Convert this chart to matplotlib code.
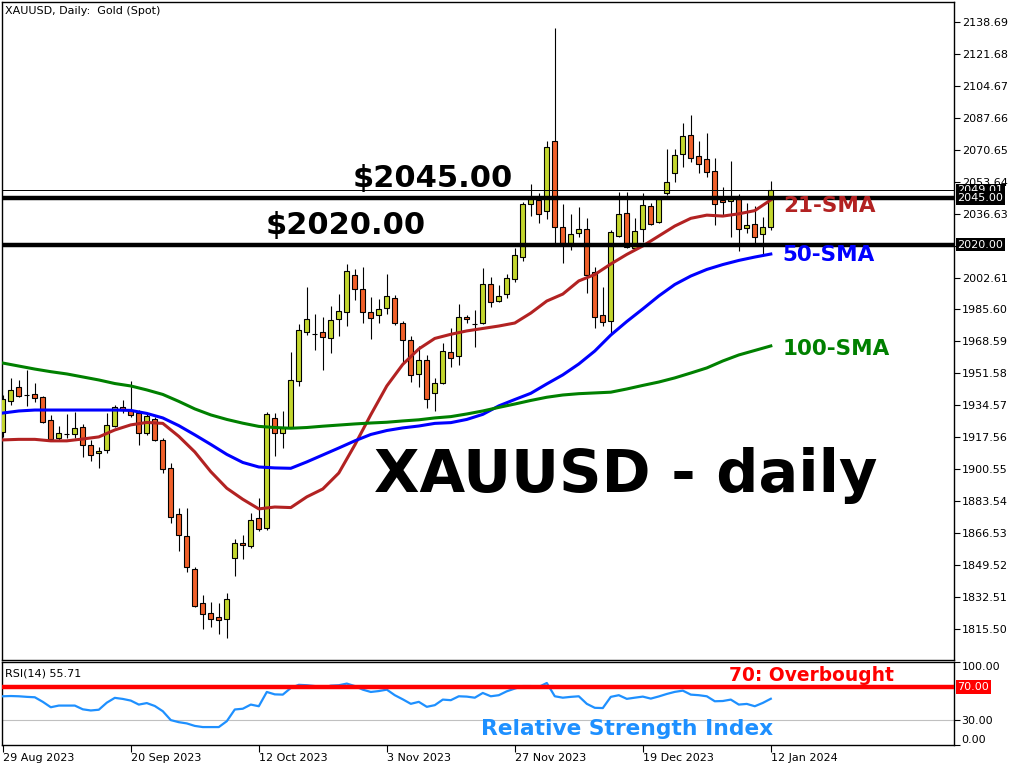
import pandas as pd
import matplotlib
matplotlib.use("Agg")
import matplotlib.pyplot as plt

# trading days (no bars on 25 Dec and 1 Jan)
days = pd.bdate_range("2023-08-29", "2024-01-12")
days = days[~days.isin(pd.to_datetime(["2023-12-25", "2024-01-01"]))]

opens = [1920.4, 1937.1, 1944.2, 1940.2, 1940.7, 1938.9, 1926.8, 1917.4, 1919.4, 1919.5,
         1922.9, 1913.3, 1909.1, 1910.7, 1923.8, 1933.6, 1932.1, 1930.4, 1919.7, 1927.2,
         1916.2, 1901.1, 1876.8, 1865.1, 1847.4, 1829.3, 1824.0, 1821.9, 1820.8, 1853.3,
         1861.2, 1860.0, 1874.5, 1869.2, 1927.7, 1919.7, 1923.3, 1947.7, 1973.5, 1972.5,
         1973.6, 1970.3, 1980.7, 1984.1, 2003.9, 1996.5, 1984.2, 1982.5, 1986.2, 1991.6,
         1978.3, 1969.4, 1951.1, 1958.7, 1941.0, 1946.4, 1962.8, 1960.8, 1981.4, 1977.9,
         1978.6, 1999.2, 1990.3, 1993.7, 2001.7, 2013.4, 2041.7, 2043.9, 2038.0, 2075.1,
         2029.6, 2021.1, 2026.1, 2028.6, 2005.7, 1982.7, 1979.5, 2024.9, 2036.8, 2018.2,
         2028.3, 2040.5, 2032.3, 2047.4, 2058.1, 2068.2, 2078.4, 2067.2, 2065.5, 2059.3,
         2043.9, 2043.1, 2044.2, 2028.8, 2030.9, 2025.6, 2029.6]
highs = [1940.0, 1949.1, 1948.1, 1953.4, 1946.3, 1939.5, 1929.5, 1923.6, 1930.0, 1931.2,
         1924.7, 1916.2, 1912.6, 1930.4, 1934.8, 1937.5, 1947.6, 1932.1, 1930.0, 1928.4,
         1917.1, 1903.8, 1879.8, 1879.8, 1848.8, 1833.7, 1830.2, 1829.3, 1834.6, 1863.4,
         1865.7, 1877.2, 1885.2, 1930.9, 1930.4, 1931.6, 1963.2, 1977.9, 1997.7, 1983.2,
         1981.8, 1987.5, 1993.8, 2009.8, 2007.1, 2008.4, 1992.4, 1991.2, 2004.5, 1993.3,
         1979.5, 1971.5, 1966.2, 1961.4, 1949.0, 1967.9, 1975.9, 1988.5, 1982.6, 1985.3,
         2007.5, 2003.0, 1998.6, 2004.5, 2018.1, 2042.9, 2052.4, 2047.4, 2075.4, 2135.2,
         2041.7, 2036.4, 2040.0, 2034.1, 2008.4, 1997.4, 2027.9, 2047.9, 2047.9, 2034.1,
         2047.4, 2042.1, 2045.6, 2070.8, 2070.8, 2084.6, 2089.1, 2075.2, 2079.3, 2066.0,
         2050.9, 2064.6, 2047.0, 2042.1, 2040.6, 2034.9, 2054.1]
lows = [1918.0, 1934.8, 1939.2, 1934.3, 1936.6, 1925.4, 1916.2, 1916.2, 1917.2, 1917.1,
        1907.3, 1905.2, 1901.1, 1909.4, 1922.9, 1930.4, 1928.2, 1913.5, 1918.8, 1915.7,
        1898.8, 1872.2, 1857.3, 1846.1, 1827.2, 1815.5, 1816.6, 1813.0, 1810.7, 1844.0,
        1852.9, 1858.6, 1867.9, 1868.5, 1907.8, 1911.8, 1922.5, 1944.9, 1972.0, 1964.1,
        1953.4, 1962.6, 1971.5, 1976.8, 1990.6, 1978.6, 1969.9, 1978.6, 1983.2, 1977.3,
        1957.0, 1947.2, 1944.5, 1933.0, 1931.8, 1945.9, 1955.2, 1956.1, 1978.6, 1965.5,
        1978.0, 1987.1, 1989.7, 1991.6, 2000.4, 2011.6, 2035.3, 2031.4, 2033.7, 2020.8,
        2010.2, 2017.2, 2024.3, 1994.2, 1975.6, 1976.8, 1973.0, 2024.3, 2018.2, 2017.2,
        2021.7, 2030.4, 2031.8, 2046.5, 2053.6, 2061.6, 2064.2, 2058.4, 2055.9, 2030.6,
        2035.9, 2024.3, 2016.9, 2026.1, 2021.1, 2014.6, 2028.0]
closes = [1938.0, 1942.8, 1939.7, 1939.9, 1938.4, 1925.9, 1916.5, 1919.7, 1919.6, 1922.4,
          1913.3, 1908.0, 1910.5, 1924.0, 1933.6, 1932.1, 1929.3, 1919.7, 1929.0, 1916.2,
          1900.6, 1875.0, 1865.5, 1848.8, 1827.9, 1823.5, 1820.8, 1820.3, 1831.4, 1861.2,
          1860.2, 1873.6, 1868.7, 1929.9, 1919.7, 1922.4, 1948.1, 1974.7, 1980.4, 1972.6,
          1971.1, 1980.0, 1984.8, 2006.1, 1996.3, 1984.1, 1981.2, 1985.7, 1992.8, 1978.3,
          1969.2, 1950.6, 1958.7, 1937.8, 1946.4, 1963.5, 1959.6, 1981.4, 1980.4, 1978.0,
          1999.2, 1989.7, 1992.8, 2002.2, 2014.4, 2041.7, 2044.2, 2036.4, 2071.9, 2029.3,
          2020.8, 2025.6, 2028.6, 2004.0, 1981.8, 1979.1, 2026.7, 2036.2, 2019.0, 2027.4,
          2041.0, 2030.9, 2044.2, 2053.3, 2067.8, 2077.9, 2066.0, 2062.8, 2058.9, 2041.6,
          2042.6, 2044.2, 2028.3, 2030.6, 2024.3, 2029.5, 2049.0]

rsi = [58.7, 59.0, 58.7, 58.0, 57.5, 52.0, 45.5, 47.5, 47.5, 47.5,
       43.0, 41.6, 42.5, 51.0, 56.8, 55.5, 53.5, 48.7, 50.5, 47.0,
       40.7, 30.0, 27.5, 26.0, 23.0, 21.6, 21.6, 21.6, 28.7, 42.8,
       43.7, 48.7, 46.7, 63.9, 61.0, 60.7, 68.7, 72.5, 72.0, 71.0,
       69.0, 71.5, 72.0, 74.0, 71.0, 66.7, 63.9, 65.0, 66.7, 60.0,
       55.0, 49.6, 52.0, 46.0, 48.0, 54.7, 54.0, 58.7, 58.3, 57.0,
       62.7, 58.7, 60.0, 64.7, 68.0, 71.0, 71.0, 70.0, 74.7, 58.7,
       57.0, 58.0, 58.7, 49.6, 44.8, 44.5, 58.0, 60.0, 55.6, 57.0,
       58.3, 55.9, 58.5, 61.5, 64.0, 65.5, 60.7, 60.0, 58.7, 52.7,
       53.0, 54.7, 48.7, 49.5, 46.7, 50.7, 55.71]

# moving averages read every 2nd bar
sma_idx = list(range(0, 97, 2))
sma21 = [1916.2, 1916.5, 1916.5, 1915.7, 1915.7, 1916.7, 1917.8, 1921.5, 1924.2, 1925.5,
         1925.0, 1918.1, 1909.8, 1899.3, 1890.5, 1884.6, 1879.5, 1880.5, 1880.2, 1885.9,
         1890.1, 1898.6, 1913.5, 1929.6, 1944.9, 1956.4, 1964.6, 1970.2, 1972.4, 1974.2,
         1975.5, 1976.8, 1978.4, 1983.7, 1990.1, 1993.8, 2000.8, 2004.2, 2009.8, 2014.9,
         2019.4, 2024.7, 2030.0, 2034.1, 2035.8, 2035.3, 2036.5, 2038.2, 2043.9]
sma50 = [1930.5, 1931.6, 1932.1, 1932.1, 1932.1, 1932.1, 1932.1, 1932.1, 1931.9, 1930.3,
         1927.9, 1923.8, 1918.9, 1913.8, 1908.5, 1904.2, 1901.8, 1901.3, 1901.1, 1904.5,
         1908.2, 1911.9, 1915.7, 1919.1, 1921.2, 1922.6, 1923.6, 1925.0, 1925.4, 1927.1,
         1929.8, 1934.3, 1937.7, 1941.0, 1946.0, 1950.8, 1956.6, 1963.5, 1972.0, 1979.2,
         1985.9, 1992.8, 1998.9, 2003.4, 2006.9, 2009.5, 2011.7, 2013.5, 2015.1]
sma100 = [1957.1, 1955.5, 1953.9, 1952.5, 1951.3, 1949.7, 1948.1, 1946.2, 1944.9, 1942.8,
          1940.4, 1936.7, 1932.7, 1929.5, 1927.1, 1925.1, 1923.4, 1922.8, 1922.4, 1922.8,
          1923.5, 1924.1, 1924.7, 1925.2, 1925.6, 1926.3, 1926.9, 1927.9, 1928.6, 1930.0,
          1931.6, 1933.5, 1935.3, 1937.2, 1938.9, 1940.1, 1940.8, 1941.2, 1941.6, 1943.3,
          1945.2, 1947.0, 1949.2, 1951.8, 1954.5, 1958.2, 1961.4, 1963.8, 1966.2]

last_price = 2049.01
levels = [2045.00, 2020.00]
price_ticks = [round(1815.50 + 17.01 * k, 2) for k in range(20)]

bull_col = '#C3D62E'
bear_col = '#F0602A'

W, H = 1024, 768
fig = plt.figure(figsize=(10.24, 7.68), dpi=100)
ax = fig.add_axes([2 / W, 1 - 660 / H, 952 / W, 658 / H])
rax = fig.add_axes([2 / W, 1 - 745 / H, 952 / W, 83 / H])

# candles
x = list(range(len(closes)))
ax.vlines(x, lows, highs, color='black', lw=0.8, zorder=2)
for i in x:
    o, c = opens[i], closes[i]
    ax.bar(i, abs(c - o), bottom=min(o, c), width=0.62,
           color=bull_col if c >= o else bear_col,
           edgecolor='black', linewidth=0.8, zorder=3)

ax.plot(sma_idx, sma21, color='#B22222', lw=2.2, zorder=4)
ax.plot(sma_idx, sma50, color='#0000FF', lw=2.2, zorder=4)
ax.plot(sma_idx, sma100, color='#008000', lw=2.2, zorder=4)

for lv in levels:
    ax.axhline(lv, color='black', lw=3.2, zorder=5)
ax.axhline(last_price, color='black', lw=0.7, zorder=5)

ax.set_xlim(-0.1, 118.9)
ax.set_ylim(1799.1, 2149.2)
ax.set_xticks([])
ax.yaxis.tick_right()
ax.set_yticks(price_ticks)
# the 2019.62 label sits under the 2020.00 box
ax.set_yticklabels(['' if abs(v - 2019.62) < 0.01 else f'{v:.2f}' for v in price_ticks])
ax.tick_params(axis='y', direction='out', length=4, labelsize=8, pad=1.5)


def price_box(axis, y, text, fc):
    axis.annotate(text, xy=(1, y), xycoords=('axes fraction', 'data'),
                  xytext=(2.5, 0), textcoords='offset points', ha='left', va='center',
                  color='white', fontsize=8,
                  bbox=dict(boxstyle='square,pad=0.15', fc=fc, ec='none'),
                  annotation_clip=False, zorder=10)


price_box(ax, last_price, f'{last_price:.2f}', 'black')
for lv in levels:
    price_box(ax, lv, f'{lv:.2f}', 'black')

bold = dict(fontweight='bold', va='baseline', ha='left', zorder=6)
ax.text(43.75, 2050.9, '$2045.00', fontsize=22, color='black', **bold)
ax.text(32.9, 2025.8, '$2020.00', fontsize=22, color='black', **bold)
ax.text(97.5, 2037.6, '21-SMA', fontsize=15.5, color='#B22222', **bold)
ax.text(97.5, 2011.4, '50-SMA', fontsize=15.5, color='#0000FF', **bold)
ax.text(97.5, 1961.4, '100-SMA', fontsize=15.5, color='#008000', **bold)
ax.text(46.4, 1888.5, 'XAUUSD - daily', fontsize=42.5, color='black', **bold)

# RSI panel
rax.plot(x, rsi, color='#1E90FF', lw=1.6, zorder=3)
rax.axhline(70, color='red', lw=3.2, zorder=4)
rax.axhline(30, color='#C0C0C0', lw=0.8, zorder=2)
rax.set_xlim(-0.1, 118.9)
rax.set_ylim(0, 100)
rax.yaxis.tick_right()
rax.set_yticks([100, 30, 0])
rax.set_yticklabels(['100.00', '30.00', '0.00'])
labs = rax.get_yticklabels()
labs[0].set_va('top')
labs[2].set_va('bottom')
rax.tick_params(axis='y', direction='out', length=4, labelsize=8, pad=1.5)
price_box(rax, 70, '70.00', 'red')

tick_idx = list(range(0, 97, 16))
rax.set_xticks(tick_idx)
rax.set_xticklabels([f"{days[i].day} {days[i].strftime('%b %Y')}" for i in tick_idx],
                    ha='left')
rax.tick_params(axis='x', direction='out', length=5, labelsize=8, pad=1)

rax.text(90.75, 77.0, '70: Overbought', fontsize=13.4, color='red', **bold)
rax.text(59.75, 12.0, 'Relative Strength Index', fontsize=15.7, color='#1E90FF', **bold)

for a in (ax, rax):
    for s in a.spines.values():
        s.set_color('black')
        s.set_linewidth(1)

fig.text(5 / W, 1 - 11 / H, 'XAUUSD, Daily:  Gold (Spot)', fontsize=8, va='center')
fig.text(5 / W, 1 - 674 / H, 'RSI(14) 55.71', fontsize=8, va='center')

fig.savefig('out.png', dpi=100, facecolor='white')
